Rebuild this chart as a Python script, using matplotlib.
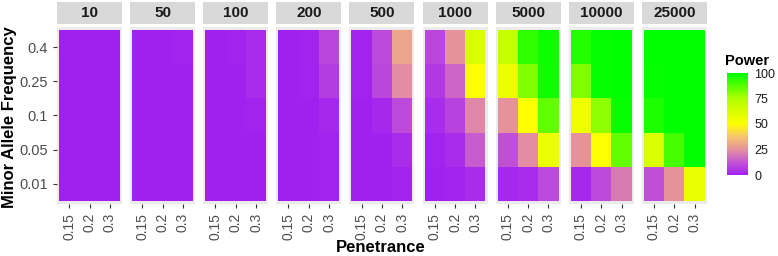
import numpy as np
import matplotlib.pyplot as plt
from matplotlib.colors import LinearSegmentedColormap

plt.rcParams['font.family'] = ['Liberation Sans', 'DejaVu Sans']

# facets (sample size), x = penetrance, y = minor allele frequency
sample_sizes = ['10', '50', '100', '200', '500', '1000', '5000', '10000', '25000']
penetrance = ['0.15', '0.2', '0.3']
maf = ['0.01', '0.05', '0.1', '0.25', '0.4']   # bottom -> top

# power (%), rows = maf (bottom -> top), cols = penetrance
power_10 = [[0, 0, 0], [0, 0, 0], [0, 0, 0], [0, 0, 0], [0, 0, 0]]
power_50 = [[0, 0, 0], [0, 0, 0], [0, 0, 0], [0, 0, 0], [0, 0, 1]]
power_100 = [[0, 0, 0], [0, 0, 0], [0, 0, 1], [0, 0, 3], [0, 1, 3]]
power_200 = [[0, 0, 1], [0, 0, 1], [0, 0, 2], [0, 1, 7], [0, 1, 9]]
power_500 = [[0, 0, 1], [0, 0, 3], [0, 2, 10], [1, 9, 24], [1, 10, 30]]
power_1000 = [[0, 1, 3], [1, 3, 14], [3, 8, 23], [6, 16, 50], [9, 25, 62]]
power_5000 = [[2, 3, 10], [11, 24, 56], [25, 50, 86], [56, 82, 98], [68, 93, 98]]
power_10000 = [[2, 10, 20], [25, 51, 86], [55, 80, 99], [82, 99, 100], [95, 99, 100]]
power_25000 = [[11, 25, 57], [62, 90, 100], [96, 100, 100], [99, 100, 100], [100, 100, 100]]

power = [power_10, power_50, power_100, power_200, power_500,
         power_1000, power_5000, power_10000, power_25000]

cmap = LinearSegmentedColormap.from_list('power', [
    (0.0, '#A020F0'), (0.125, '#C456D4'), (0.25, '#E5929C'),
    (0.375, '#F4C46E'), (0.5, '#FFFF00'), (0.75, '#B0FF00'), (1.0, '#00FF00')])

W, H = 778, 256
fig = plt.figure(figsize=(W / 100, H / 100), dpi=100)

gray = '#4D4D4D'
for i, (n, vals) in enumerate(zip(sample_sizes, power)):
    x0 = 57 + i * 73.1
    ax = fig.add_axes([x0 / W, 1 - 204 / H, 65 / W, 177 / H])
    ax.set_facecolor('#EBEBEB')
    ax.pcolormesh(np.arange(4) - 0.5, np.arange(6) - 0.5, np.array(vals),
                  cmap=cmap, vmin=0, vmax=100)
    ax.set_xlim(-0.6, 2.6)
    ax.set_ylim(-0.6, 4.6)
    for s in ax.spines.values():
        s.set_visible(False)
    ax.set_xticks(range(3))
    ax.set_xticklabels(penetrance, rotation=90, fontsize=10, color=gray)
    ax.set_yticks(range(5))
    ax.tick_params(colors='#333333', labelcolor=gray, length=3, width=0.8)
    if i == 0:
        ax.set_yticklabels(maf, fontsize=10.5, color=gray)
    else:
        ax.set_yticklabels([])
        ax.tick_params(axis='y', length=0)

    sax = fig.add_axes([x0 / W, 1 - 24 / H, 65 / W, 22 / H])
    sax.set_facecolor('#D9D9D9')
    sax.set_xticks([])
    sax.set_yticks([])
    for s in sax.spines.values():
        s.set_visible(False)
    sax.text(0.5, 0.5, n, ha='center', va='center', fontsize=11,
             fontweight='bold', color='#1A1A1A', transform=sax.transAxes)

fig.text(10 / W, 1 - 117 / H, 'Minor Allele Frequency', rotation=90,
         ha='center', va='center', fontsize=12, fontweight='bold')
fig.text(381 / W, 1 - 247 / H, 'Penetrance', ha='center', va='center',
         fontsize=12, fontweight='bold')

cax = fig.add_axes([727 / W, 1 - 175 / H, 21 / W, 102 / H])
cb = fig.colorbar(plt.cm.ScalarMappable(cmap=cmap, norm=plt.Normalize(0, 100)),
                  cax=cax, ticks=[0, 25, 50, 75, 100])
cb.outline.set_visible(False)
cb.ax.tick_params(labelsize=9, length=3, pad=1.5, color='white', labelcolor='#1A1A1A')
fig.text(725 / W, 1 - 61 / H, 'Power', ha='left', va='center',
         fontsize=10.5, fontweight='bold')

fig.savefig('out.png', dpi=100)
